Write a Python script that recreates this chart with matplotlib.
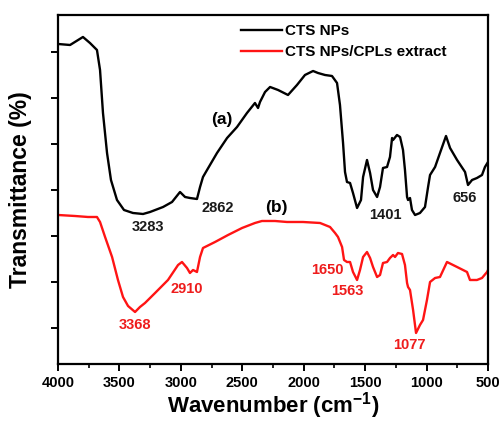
import numpy as np
import matplotlib
matplotlib.use("Agg")
import matplotlib.pyplot as plt
from matplotlib.ticker import MultipleLocator

plt.rcParams['font.family'] = ['Liberation Sans', 'DejaVu Sans']
plt.rcParams['font.weight'] = 'bold'
plt.rcParams['mathtext.fontset'] = 'custom'
plt.rcParams['mathtext.rm'] = 'Liberation Sans:bold'
plt.rcParams['mathtext.bf'] = 'Liberation Sans:bold'
plt.rcParams['mathtext.default'] = 'bf'

# CTS NPs spectrum (a)
wn_a = [4000, 3902, 3797, 3740, 3683, 3658, 3634, 3601, 3569, 3520, 3463, 3390,
        3308, 3251, 3145, 3072, 3007, 2966, 2926, 2869, 2844, 2820, 2787, 2706,
        2624, 2543, 2462, 2397, 2372, 2356, 2315, 2274, 2209, 2128, 2055, 1990,
        1924, 1884, 1827, 1770, 1729, 1705, 1680, 1664, 1648, 1623, 1599, 1566,
        1534, 1517, 1485, 1460, 1436, 1403, 1379, 1355, 1322, 1298, 1281, 1273,
        1241, 1216, 1192, 1176, 1159, 1151, 1135, 1119, 1094, 1054, 1013, 988,
        972, 931, 891, 842, 809, 752, 687, 663, 630, 590, 549, 525, 500]
tr_a = [320, 319, 327, 321, 314, 294, 251, 211, 184, 164, 154, 151,
        150, 152, 157, 162, 172, 167, 166, 165, 177, 187, 194, 211,
        226, 237, 251, 261, 256, 262, 272, 277, 274, 269, 279, 289,
        293, 291, 289, 288, 281, 259, 221, 192, 182, 181, 171, 156,
        164, 187, 204, 191, 174, 167, 177, 196, 197, 207, 226, 224,
        229, 227, 214, 194, 167, 164, 166, 154, 149, 151, 157, 177,
        189, 197, 211, 228, 216, 204, 192, 179, 184, 186, 189, 197, 202]

# CTS NPs/CPLs extract spectrum (b)
wn_b = [4000, 3862, 3756, 3683, 3658, 3617, 3560, 3512, 3471, 3430, 3373, 3333,
        3292, 3210, 3105, 3023, 2991, 2950, 2926, 2901, 2869, 2844, 2820, 2722,
        2616, 2502, 2397, 2340, 2234, 2136, 2006, 1867, 1786, 1745, 1721, 1688,
        1672, 1648, 1623, 1599, 1566, 1542, 1517, 1485, 1460, 1436, 1403, 1379,
        1355, 1322, 1298, 1273, 1257, 1233, 1200, 1176, 1159, 1151, 1135, 1110,
        1086, 1054, 1029, 997, 972, 931, 891, 834, 752, 671, 647, 590, 549, 508, 500]
tr_b = [149, 148, 147, 147, 142, 127, 107, 84, 67, 58, 52, 57,
        61, 71, 84, 99, 102, 96, 91, 94, 92, 107, 116, 122,
        129, 136, 141, 143, 143, 142, 142, 141, 137, 131, 127, 117,
        104, 102, 102, 92, 84, 94, 107, 112, 106, 97, 87, 89,
        101, 102, 106, 109, 107, 111, 110, 99, 81, 77, 74, 54,
        31, 39, 44, 64, 82, 86, 87, 102, 97, 92, 84, 84, 86, 92, 94]

# peak labels: text, wavenumber, transmittance
labels_a = [("3283", 3267, 137), ("2862", 2698, 156), ("1401", 1338, 149), ("656", 687, 166)]
labels_b = [("3368", 3373, 39), ("2910", 2950, 75), ("1650", 1810, 94),
            ("1563", 1648, 73), ("1077", 1143, 19)]

fig = plt.figure(figsize=(5.01, 4.21), dpi=100)
ax = fig.add_axes([0.1158, 0.1354, 0.8583, 0.829])

ax.plot(wn_a, tr_a, color='black', lw=1.7, label='CTS NPs')
ax.plot(wn_b, tr_b, color='#ff1414', lw=1.7, label='CTS NPs/CPLs extract')

for t, x, y in labels_a:
    ax.text(x, y, t, color='#1a1a1a', fontsize=10.5, fontweight='bold', ha='center', va='center')
for t, x, y in labels_b:
    ax.text(x, y, t, color='#ee1c1c', fontsize=10.5, fontweight='bold', ha='center', va='center')
ax.text(2665, 244, '(a)', fontsize=12.5, fontweight='bold', ha='center', va='center')
ax.text(2226, 156, '(b)', fontsize=12.5, fontweight='bold', ha='center', va='center')

ax.set_xlim(4000, 500)
ax.set_ylim(0, 349)
ax.xaxis.set_major_locator(MultipleLocator(500))
ax.xaxis.set_minor_locator(MultipleLocator(250))
ax.set_yticks([36, 82, 128, 174, 220, 266, 312])
ax.set_yticklabels([])
ax.tick_params(axis='both', which='major', direction='out', length=5, width=1.4,
               labelsize=10.5, pad=4)
ax.tick_params(axis='x', which='minor', direction='out', length=3, width=1.2)
for lbl in ax.get_xticklabels():
    lbl.set_fontweight('bold')
for s in ax.spines.values():
    s.set_linewidth(1.6)

ax.set_xlabel(r'Wavenumber (cm$^{-1}$)', fontsize=16, fontweight='bold', labelpad=0)
ax.set_ylabel('Transmittance (%)', fontsize=16.5, fontweight='bold', labelpad=10)

ax.legend(loc='upper left', bbox_to_anchor=((241 - 58) / 430, (364 - 24) / 349),
          frameon=False, handlelength=2.7, handletextpad=0.2,
          borderpad=0, borderaxespad=0, labelspacing=0.45, prop={'weight': 'bold', 'size': 11})

fig.savefig('out.png', dpi=100)
